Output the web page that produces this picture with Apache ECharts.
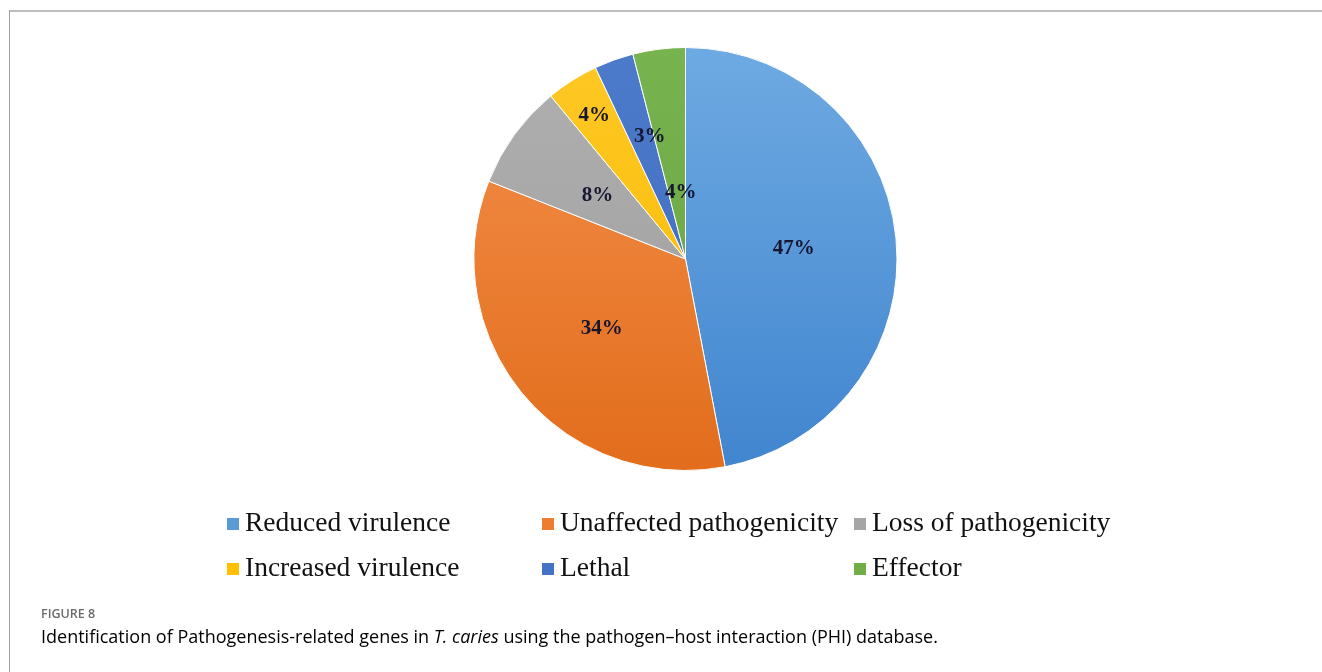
<!DOCTYPE html>
<html>
<head>
<meta charset="utf-8">
<title>PHI phenotype categories</title>
<script src="https://cdn.jsdelivr.net/npm/echarts@6/dist/echarts.min.js"></script>
<style>
  html, body { margin: 0; padding: 0; background: #ffffff; }
  #chart { width: 1322px; height: 672px; }
</style>
</head>
<body>
<div id="chart"></div>
<script>
// Phenotype categories of pathogenesis-related genes (share of genes, %)
const categories = [
  'Reduced virulence',
  'Unaffected pathogenicity',
  'Loss of pathogenicity',
  'Increased virulence',
  'Lethal',
  'Effector'
];
const shares = [47, 34, 8, 4, 3, 4];

// Legend columns (each column lists two categories, top to bottom)
const legendColumns = [
  ['Reduced virulence', 'Increased virulence'],
  ['Unaffected pathogenicity', 'Lethal'],
  ['Loss of pathogenicity', 'Effector']
];

// Slice fills: light top to darker bottom, Office palette
const sliceFills = [
  ['#6eaae2', '#4185cf'],
  ['#f4904c', '#e26d1c'],
  ['#b0b0b0', '#9c9c9c'],
  ['#ffc824', '#f6b800'],
  ['#4d7bcc', '#3d68b8'],
  ['#77b34f', '#66a23f']
];
const legendSwatch = ['#5b9bd5', '#ed7d31', '#a5a5a5', '#ffc000', '#4472c4', '#70ad47'];
// Nudges for the small-slice labels, in px from the default inside spot
const labelNudge = [[0, 0], [0, 0], [0, 0], [-33, -52], [1, -20], [9, 41]];

const pieCenter = [685.5, 259];
const pieRadius = 211.5;

function fill(i) {
  return new echarts.graphic.LinearGradient(
    0, pieCenter[1] - pieRadius, 0, pieCenter[1] + pieRadius,
    [{ offset: 0, color: sliceFills[i][0] }, { offset: 1, color: sliceFills[i][1] }],
    true
  );
}

const pieData = categories.map((name, i) => ({
  name: name,
  value: shares[i],
  itemStyle: { color: fill(i) },
  label: { offset: labelNudge[i] }
}));

const serifFont = '"Liberation Serif", "Times New Roman", serif';
const captionFont = '"Open Sans", "Noto Sans", sans-serif';

const legends = legendColumns.map((col, c) => ({
  orient: 'vertical',
  left: [225, 540, 852][c],
  top: 509,
  data: col.map(n => ({
    name: n,
    itemStyle: { color: legendSwatch[categories.indexOf(n)] }
  })),
  icon: 'rect',
  itemWidth: 14,
  itemHeight: 14,
  itemGap: 15,
  padding: 0,
  selectedMode: false,
  textStyle: {
    fontFamily: serifFont,
    fontSize: 27.5,
    lineHeight: 30,
    color: '#111111'
  }
}));

const chart = echarts.init(document.getElementById('chart'), null, { renderer: 'canvas' });

chart.setOption({
  backgroundColor: '#ffffff',
  animation: false,
  legend: legends,
  series: [{
    type: 'pie',
    center: pieCenter,
    radius: pieRadius,
    startAngle: 90,
    clockwise: true,
    avoidLabelOverlap: false,
    itemStyle: { borderColor: '#ffffff', borderWidth: 1 },
    label: {
      show: true,
      position: 'inside',
      formatter: '{c}%',
      fontFamily: serifFont,
      fontWeight: 'bold',
      fontSize: 21,
      color: '#161630'
    },
    labelLine: { show: false },
    emphasis: { disabled: true },
    data: pieData
  }],
  graphic: [
    // frame
    { type: 'line', silent: true, shape: { x1: 9.5, y1: 11, x2: 1322, y2: 11 },
      style: { stroke: '#bdbdbd', lineWidth: 2 } },
    { type: 'line', silent: true, shape: { x1: 9.5, y1: 10, x2: 9.5, y2: 672 },
      style: { stroke: '#a0a0a0', lineWidth: 1 } },
    // caption
    { type: 'text', left: 41, top: 608, silent: true,
      style: { text: 'FIGURE 8', fill: '#6b6b6b',
        font: '600 12.5px ' + captionFont } },
    { type: 'text', left: 41, top: 629, silent: true,
      style: {
        text: '{n|Identification of Pathogenesis-related genes in }{i|T. caries}{n| using the pathogen\u2013host interaction (PHI) database.}',
        rich: {
          n: { fontFamily: captionFont, fontSize: 18, color: '#5a5a5a' },
          i: { fontFamily: captionFont, fontSize: 18, fontStyle: 'italic', color: '#5a5a5a' }
        }
      } }
  ]
});
</script>
</body>
</html>
